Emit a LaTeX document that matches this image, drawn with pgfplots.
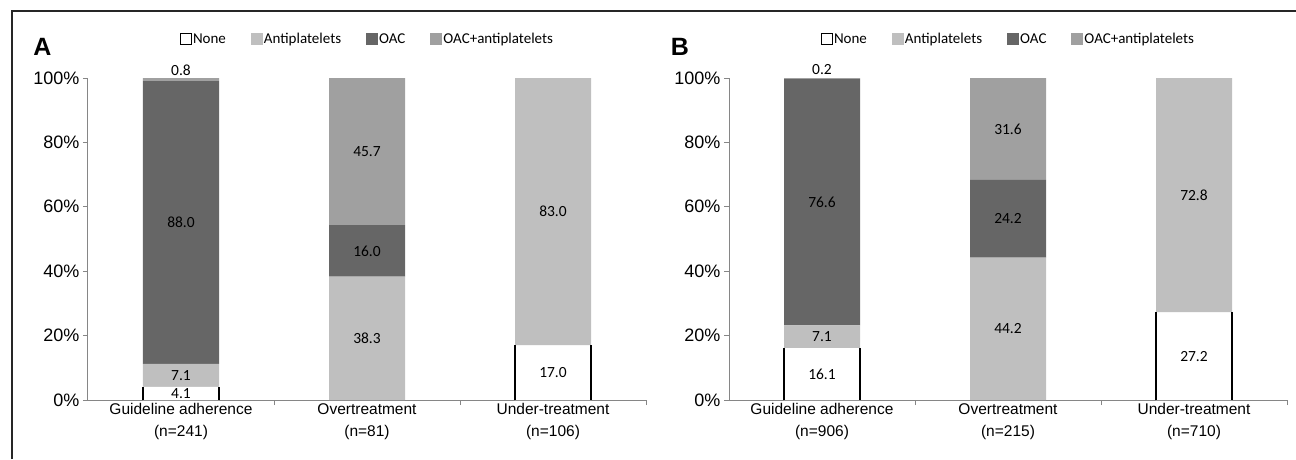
\documentclass[border=0pt]{standalone}
\usepackage{pgfplots}
\pgfplotsset{compat=1.18}
\usepackage{pgfplotstable}
\usepackage{fontspec}
\setmainfont{Liberation Sans}
\newfontfamily\calfont{Carlito}

\definecolor{antip}{HTML}{BFBFBF}
\definecolor{oac}{HTML}{666666}
\definecolor{oacanti}{HTML}{A0A0A0}
\definecolor{axisgray}{HTML}{868686}
\definecolor{framegray}{HTML}{262626}

% panel A
\pgfplotstableread{
x    none anti oac  both
0.5  4.1  7.1  88.0 0.8
1.5  0    38.3 16.0 45.7
2.5  17.0 83.0 0    0
}\panelA
% panel B
\pgfplotstableread{
x    none anti oac  both
0.5  16.1 7.1  76.6 0.2
1.5  0    44.2 24.2 31.6
2.5  27.2 72.8 0    0
}\panelB

\pgfplotsset{
  sq legend/.style={legend image code/.code={\fill[##1] (0pt,-6pt) rectangle (12pt,6pt);}},
  sqb legend/.style={legend image code/.code={\draw[##1, draw=black, line width=1.2pt] (0.6pt,-5.4pt) rectangle (11.4pt,5.4pt);}},
  seg/.style={visualization depends on={\thisrow{#1} \as \seg}, table/y=#1},
  frame/.style={scale only axis, width=558pt, height=322pt, anchor=south west,
    xmin=0, xmax=3, ymin=0, ymax=100, clip=false},
  panel/.style={
    frame,
    ybar stacked, bar width=76pt,
    axis x line*=bottom, axis y line*=left,
    axis line style={draw=axisgray, line width=1pt},
    tick align=outside, major tick length=5pt,
    tick style={draw=axisgray, line width=1pt},
    xtick={1,2,3}, xticklabels={,,},
    ytick={0,20,...,100}, yticklabels={0\%,20\%,40\%,60\%,80\%,100\%},
    yticklabel style={font=\fontsize{18}{20}\selectfont, text=black},
    xticklabel style={align=center, font=\fontsize{15.5}{22}\selectfont, text=black},
    extra x ticks={0.5,1.5,2.5},
    extra x tick style={major tick length=0pt},
    nodes near coords={\ifdim\seg pt>0pt \pgfmathprintnumber[fixed,fixed zerofill,precision=1,assume math mode=true]{\seg}\fi},
    every node near coord/.append style={anchor=center,
      font=\calfont\fontsize{15.5}{18}\selectfont, text=black,
      yshift={ifthenelse(\seg<2,1.61*\seg+8,0)}},
    legend columns=4,
    legend style={at={(0.5,1.121)}, anchor=center, draw=none, fill=none,
      font=\calfont\fontsize{15}{18}\selectfont,
      nodes={inner xsep=1pt},
      /tikz/every even column/.append style={column sep=24pt}},
  },
  edge/.style={ycomb, draw=black, line width=1.6pt, mark=none, line cap=butt},
}

\begin{document}
\begin{tikzpicture}[x=1pt,y=1pt]
\useasboundingbox (0,0) rectangle (1296,459);

\begin{axis}[panel, at={(88pt,59pt)},
  extra x tick labels={{Guideline adherence\\(n=241)},{Overtreatment\\(n=81)},{Under-treatment\\(n=106)}}]
  \addplot[fill=white, draw=none, seg=none, sqb legend] table[x=x]{\panelA};
  \addplot[fill=antip, draw=none, seg=anti, sq legend] table[x=x]{\panelA};
  \addplot[fill=oac, draw=none, seg=oac, sq legend] table[x=x]{\panelA};
  \addplot[fill=oacanti, draw=none, seg=both, sq legend] table[x=x]{\panelA};
  \legend{None,Antiplatelets,OAC,OAC+antiplatelets}
\end{axis}
% black sides of the None bars
\begin{axis}[frame, hide axis, at={(88pt,59pt)}]
  \addplot[edge, xshift=-38pt] table[x=x,y=none]{\panelA};
  \addplot[edge, xshift=38pt] table[x=x,y=none]{\panelA};
\end{axis}

\begin{axis}[panel, at={(729pt,59pt)},
  extra x tick labels={{Guideline adherence\\(n=906)},{Overtreatment\\(n=215)},{Under-treatment\\(n=710)}}]
  \addplot[fill=white, draw=none, seg=none, sqb legend] table[x=x]{\panelB};
  \addplot[fill=antip, draw=none, seg=anti, sq legend] table[x=x]{\panelB};
  \addplot[fill=oac, draw=none, seg=oac, sq legend] table[x=x]{\panelB};
  \addplot[fill=oacanti, draw=none, seg=both, sq legend] table[x=x]{\panelB};
  \legend{None,Antiplatelets,OAC,OAC+antiplatelets}
\end{axis}
\begin{axis}[frame, hide axis, at={(729pt,59pt)}]
  \addplot[edge, xshift=-38pt] table[x=x,y=none]{\panelB};
  \addplot[edge, xshift=38pt] table[x=x,y=none]{\panelB};
\end{axis}

\node[font=\bfseries\fontsize{25}{25}\selectfont] at (42.5,412) {A};
\node[font=\bfseries\fontsize{25}{25}\selectfont] at (680,412) {B};
\draw[framegray, line width=2pt] (12,0) -- (12,448) -- (1296,448);
\end{tikzpicture}
\end{document}
